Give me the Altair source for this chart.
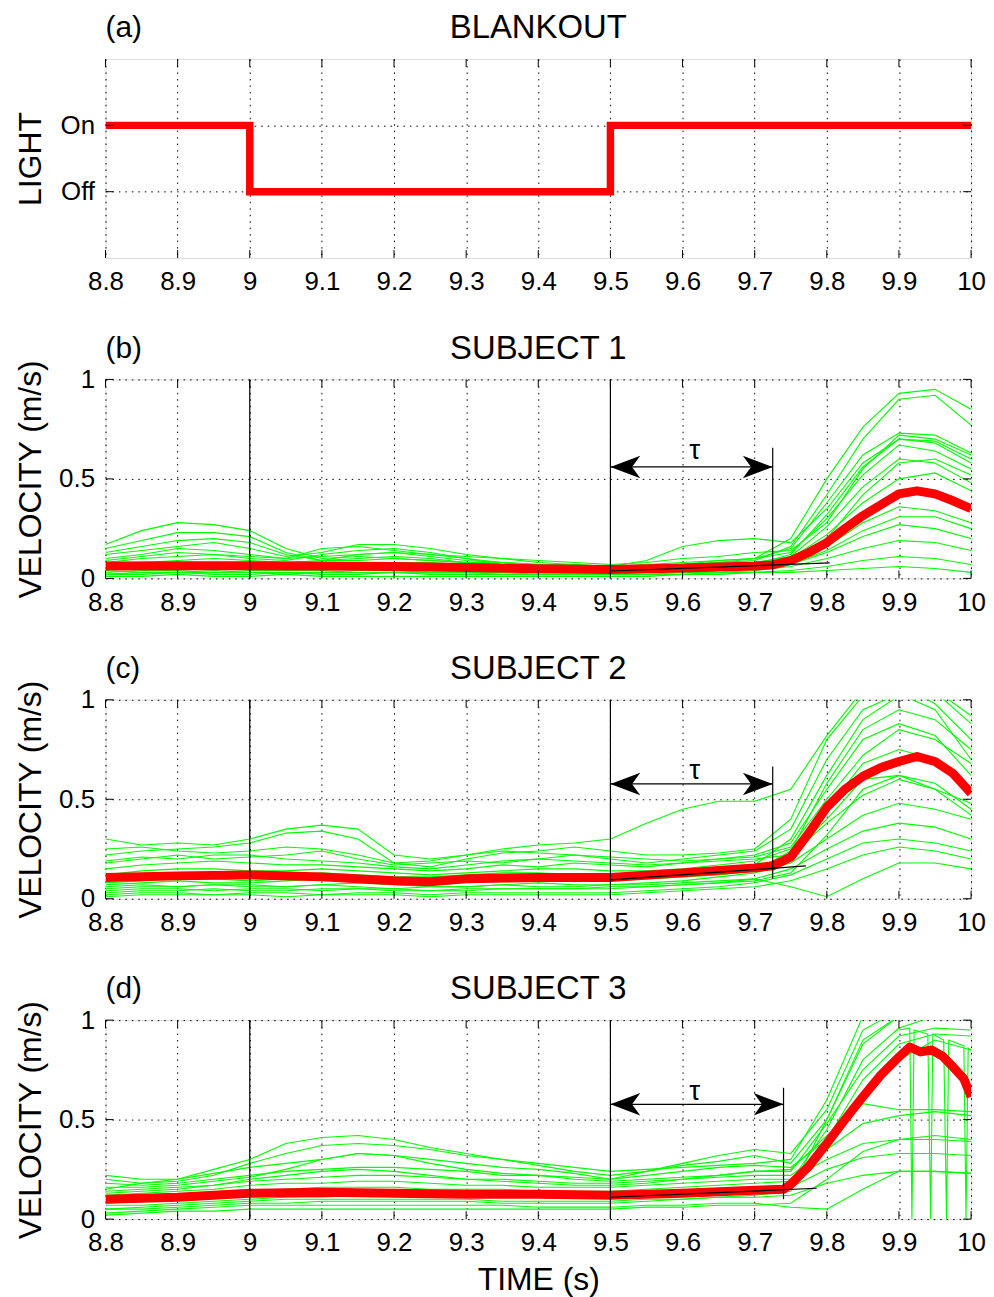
import altair as alt
import pandas as pd

FONT = "Liberation Sans"
W, H = 870, 200

# ---------------- axes ----------------
X_TICKS = [8.8, 8.9, 9.0, 9.1, 9.2, 9.3, 9.4, 9.5, 9.6, 9.7, 9.8, 9.9, 10.0]
V_TICKS = [0.0, 0.5, 1.0]
LIGHT_TICKS = [0, 1]
LIGHT_LABELS = ["Off", "On"]

# ---------------- panel (a): light ----------------
t_light = [8.8, 9.0, 9.0, 9.5, 9.5, 10.0]
light_state = [1, 1, 0, 0, 1, 1]

blank_lines = [9.0, 9.5]

# ---------------- time base of the individual trials ----------------
T = [8.8, 8.85, 8.9, 8.95, 9.0, 9.05, 9.1, 9.15, 9.2, 9.25, 9.3, 9.35, 9.4,
     9.45, 9.5, 9.55, 9.6, 9.65, 9.7, 9.75, 9.8, 9.85, 9.9, 9.95, 10.0]

# ---------------- subject 1 ----------------
s1_trials = [
    [0.17, 0.24, 0.28, 0.27, 0.24, 0.15, 0.10, 0.11, 0.10, 0.09, 0.08, 0.08, 0.07, 0.07, 0.06, 0.07, 0.08, 0.09, 0.10, 0.20, 0.50, 0.76, 0.93, 0.95, 0.85],
    [0.15, 0.19, 0.23, 0.23, 0.21, 0.13, 0.09, 0.12, 0.13, 0.11, 0.09, 0.08, 0.06, 0.05, 0.05, 0.06, 0.07, 0.08, 0.09, 0.16, 0.42, 0.70, 0.90, 0.92, 0.77],
    [0.12, 0.14, 0.16, 0.18, 0.15, 0.11, 0.13, 0.17, 0.17, 0.15, 0.12, 0.10, 0.08, 0.07, 0.06, 0.09, 0.16, 0.19, 0.20, 0.18, 0.35, 0.58, 0.70, 0.69, 0.60],
    [0.10, 0.12, 0.15, 0.14, 0.12, 0.10, 0.15, 0.16, 0.14, 0.12, 0.10, 0.08, 0.07, 0.05, 0.05, 0.06, 0.07, 0.09, 0.10, 0.13, 0.30, 0.52, 0.67, 0.64, 0.55],
    [0.08, 0.10, 0.11, 0.12, 0.10, 0.09, 0.12, 0.14, 0.15, 0.13, 0.10, 0.07, 0.06, 0.05, 0.04, 0.05, 0.06, 0.07, 0.08, 0.11, 0.26, 0.46, 0.60, 0.58, 0.48],
    [0.07, 0.08, 0.09, 0.10, 0.09, 0.08, 0.09, 0.10, 0.11, 0.10, 0.08, 0.07, 0.06, 0.05, 0.05, 0.05, 0.06, 0.06, 0.08, 0.10, 0.22, 0.38, 0.50, 0.53, 0.44],
    [0.05, 0.06, 0.07, 0.07, 0.06, 0.06, 0.07, 0.08, 0.08, 0.07, 0.06, 0.06, 0.05, 0.04, 0.04, 0.04, 0.05, 0.05, 0.06, 0.08, 0.16, 0.28, 0.36, 0.34, 0.28],
    [0.03, 0.04, 0.04, 0.05, 0.04, 0.04, 0.04, 0.05, 0.05, 0.04, 0.04, 0.04, 0.03, 0.03, 0.03, 0.03, 0.04, 0.04, 0.05, 0.07, 0.13, 0.21, 0.27, 0.25, 0.20],
    [0.02, 0.02, 0.03, 0.02, 0.02, 0.03, 0.02, 0.02, 0.03, 0.02, 0.02, 0.02, 0.02, 0.02, 0.02, 0.02, 0.03, 0.03, 0.04, 0.06, 0.10, 0.15, 0.19, 0.18, 0.14],
    [0.01, 0.01, 0.02, 0.01, 0.01, 0.02, 0.01, 0.01, 0.01, 0.01, 0.01, 0.01, 0.01, 0.01, 0.01, 0.01, 0.02, 0.02, 0.03, 0.04, 0.06, 0.09, 0.11, 0.10, 0.07],
    [0.04, 0.03, 0.03, 0.04, 0.03, 0.03, 0.03, 0.04, 0.04, 0.03, 0.03, 0.03, 0.02, 0.02, 0.02, 0.02, 0.02, 0.03, 0.03, 0.03, 0.04, 0.05, 0.06, 0.05, 0.03],
    [0.09, 0.11, 0.13, 0.12, 0.11, 0.10, 0.11, 0.12, 0.13, 0.12, 0.11, 0.10, 0.09, 0.08, 0.07, 0.08, 0.10, 0.11, 0.13, 0.14, 0.28, 0.55, 0.72, 0.70, 0.62],
    [0.05, 0.05, 0.06, 0.06, 0.05, 0.05, 0.06, 0.06, 0.07, 0.06, 0.05, 0.05, 0.04, 0.04, 0.03, 0.04, 0.04, 0.05, 0.06, 0.09, 0.20, 0.42, 0.58, 0.60, 0.52],
    [0.06, 0.07, 0.08, 0.08, 0.07, 0.06, 0.07, 0.08, 0.08, 0.08, 0.07, 0.06, 0.05, 0.05, 0.04, 0.05, 0.05, 0.06, 0.07, 0.12, 0.32, 0.56, 0.70, 0.68, 0.58],
    [0.02, 0.03, 0.03, 0.03, 0.03, 0.02, 0.03, 0.03, 0.03, 0.03, 0.03, 0.02, 0.02, 0.02, 0.02, 0.03, 0.03, 0.04, 0.05, 0.07, 0.14, 0.24, 0.31, 0.31, 0.25],
    [0.13, 0.16, 0.19, 0.20, 0.18, 0.12, 0.09, 0.09, 0.10, 0.09, 0.08, 0.07, 0.06, 0.06, 0.05, 0.06, 0.07, 0.08, 0.10, 0.15, 0.38, 0.62, 0.73, 0.72, 0.63],
]
s1_mean_t = [8.8, 8.9, 9.0, 9.1, 9.2, 9.3, 9.4, 9.5, 9.6, 9.7, 9.725, 9.75, 9.775, 9.8, 9.825, 9.85, 9.875, 9.9, 9.925, 9.95, 9.975, 10.0]
s1_mean_v = [0.062, 0.064, 0.064, 0.062, 0.060, 0.055, 0.048, 0.045, 0.052, 0.062, 0.068, 0.09, 0.13, 0.18, 0.25, 0.315, 0.37, 0.425, 0.44, 0.425, 0.39, 0.35]

# ---------------- subject 2 ----------------
s2_trials = [
    [0.30, 0.27, 0.28, 0.27, 0.30, 0.35, 0.37, 0.35, 0.22, 0.20, 0.22, 0.25, 0.27, 0.28, 0.30, 0.38, 0.45, 0.49, 0.49, 0.55, 0.82, 1.05, 1.10, 1.05, 0.92],
    [0.22, 0.24, 0.25, 0.26, 0.28, 0.33, 0.34, 0.30, 0.18, 0.16, 0.20, 0.23, 0.24, 0.26, 0.24, 0.22, 0.22, 0.23, 0.25, 0.40, 0.80, 1.02, 1.08, 0.98, 0.80],
    [0.18, 0.20, 0.22, 0.20, 0.21, 0.22, 0.24, 0.20, 0.17, 0.18, 0.19, 0.18, 0.20, 0.22, 0.20, 0.18, 0.20, 0.22, 0.24, 0.35, 0.70, 0.95, 1.03, 0.95, 0.70],
    [0.15, 0.17, 0.18, 0.19, 0.18, 0.17, 0.17, 0.16, 0.15, 0.14, 0.15, 0.17, 0.16, 0.18, 0.17, 0.16, 0.18, 0.20, 0.22, 0.28, 0.55, 0.80, 0.88, 0.82, 0.62],
    [0.12, 0.14, 0.15, 0.15, 0.14, 0.14, 0.15, 0.14, 0.13, 0.12, 0.13, 0.14, 0.15, 0.15, 0.14, 0.14, 0.15, 0.17, 0.19, 0.25, 0.45, 0.68, 0.75, 0.70, 0.55],
    [0.08, 0.09, 0.10, 0.10, 0.09, 0.10, 0.11, 0.10, 0.09, 0.09, 0.10, 0.10, 0.11, 0.10, 0.10, 0.11, 0.12, 0.14, 0.16, 0.22, 0.38, 0.52, 0.60, 0.55, 0.48],
    [0.06, 0.07, 0.06, 0.07, 0.07, 0.06, 0.07, 0.08, 0.07, 0.06, 0.06, 0.07, 0.08, 0.07, 0.07, 0.08, 0.09, 0.11, 0.13, 0.18, 0.30, 0.42, 0.48, 0.45, 0.40],
    [0.04, 0.05, 0.05, 0.04, 0.05, 0.05, 0.04, 0.05, 0.05, 0.04, 0.05, 0.05, 0.05, 0.05, 0.05, 0.06, 0.07, 0.08, 0.10, 0.15, 0.25, 0.34, 0.38, 0.36, 0.30],
    [0.02, 0.03, 0.03, 0.02, 0.03, 0.03, 0.02, 0.03, 0.03, 0.02, 0.03, 0.03, 0.03, 0.03, 0.03, 0.04, 0.05, 0.06, 0.08, 0.12, 0.20, 0.28, 0.30, 0.28, 0.24],
    [0.05, 0.06, 0.06, 0.07, 0.06, 0.06, 0.07, 0.06, 0.05, 0.06, 0.06, 0.07, 0.06, 0.06, 0.07, 0.07, 0.08, 0.09, 0.10, 0.06, 0.01, 0.10, 0.18, 0.18, 0.15],
    [0.10, 0.12, 0.12, 0.13, 0.12, 0.12, 0.13, 0.12, 0.11, 0.11, 0.12, 0.13, 0.13, 0.12, 0.12, 0.13, 0.14, 0.15, 0.17, 0.30, 0.62, 0.90, 1.02, 1.04, 0.88],
    [0.25, 0.26, 0.24, 0.23, 0.24, 0.26, 0.25, 0.22, 0.18, 0.19, 0.22, 0.24, 0.23, 0.22, 0.21, 0.20, 0.19, 0.20, 0.21, 0.26, 0.50, 0.72, 0.85, 0.80, 0.68],
    [0.03, 0.04, 0.04, 0.05, 0.04, 0.04, 0.05, 0.05, 0.04, 0.04, 0.04, 0.05, 0.05, 0.05, 0.06, 0.06, 0.07, 0.08, 0.09, 0.13, 0.32, 0.55, 0.62, 0.58, 0.45],
    [0.07, 0.08, 0.09, 0.08, 0.08, 0.09, 0.10, 0.09, 0.08, 0.08, 0.09, 0.09, 0.10, 0.09, 0.09, 0.10, 0.11, 0.12, 0.14, 0.24, 0.58, 0.85, 0.95, 0.90, 0.75],
    [0.19, 0.21, 0.20, 0.22, 0.22, 0.20, 0.19, 0.18, 0.16, 0.15, 0.17, 0.19, 0.20, 0.19, 0.18, 0.17, 0.18, 0.19, 0.20, 0.22, 0.40, 0.60, 0.62, 0.55, 0.42],
    [0.01, 0.02, 0.02, 0.02, 0.02, 0.01, 0.02, 0.02, 0.02, 0.01, 0.02, 0.02, 0.02, 0.02, 0.02, 0.03, 0.04, 0.05, 0.06, 0.09, 0.15, 0.22, 0.26, 0.24, 0.20],
]
s2_mean_t = [8.8, 8.9, 9.0, 9.1, 9.2, 9.25, 9.3, 9.4, 9.5, 9.6, 9.7, 9.725, 9.75, 9.775, 9.8, 9.825, 9.85, 9.875, 9.9, 9.925, 9.95, 9.975, 10.0]
s2_mean_v = [0.107, 0.115, 0.12, 0.11, 0.09, 0.085, 0.10, 0.107, 0.107, 0.13, 0.155, 0.165, 0.21, 0.33, 0.46, 0.55, 0.615, 0.66, 0.69, 0.715, 0.69, 0.63, 0.53]

# ---------------- subject 3 ----------------
s3_trials = [
    [0.15, 0.18, 0.20, 0.25, 0.30, 0.38, 0.41, 0.42, 0.40, 0.36, 0.33, 0.30, 0.28, 0.26, 0.24, 0.25, 0.26, 0.27, 0.28, 0.30, 0.60, 1.02, 1.08, 1.05, 1.02],
    [0.20, 0.18, 0.19, 0.22, 0.28, 0.33, 0.37, 0.38, 0.37, 0.35, 0.32, 0.30, 0.27, 0.24, 0.22, 0.24, 0.28, 0.32, 0.35, 0.33, 0.55, 0.95, 1.05, 1.06, 1.03],
    [0.22, 0.20, 0.20, 0.23, 0.26, 0.28, 0.30, 0.33, 0.32, 0.30, 0.28, 0.26, 0.25, 0.23, 0.20, 0.24, 0.27, 0.29, 0.32, 0.28, 0.50, 0.88, 1.02, 1.04, 1.00],
    [0.18, 0.17, 0.18, 0.20, 0.22, 0.24, 0.25, 0.26, 0.26, 0.25, 0.24, 0.22, 0.22, 0.21, 0.20, 0.22, 0.24, 0.26, 0.27, 0.26, 0.40, 0.62, 0.80, 0.90, 0.85],
    [0.14, 0.15, 0.16, 0.17, 0.19, 0.20, 0.21, 0.22, 0.22, 0.21, 0.20, 0.20, 0.19, 0.18, 0.18, 0.19, 0.20, 0.21, 0.22, 0.22, 0.35, 0.48, 0.52, 0.54, 0.52],
    [0.12, 0.13, 0.14, 0.15, 0.17, 0.18, 0.18, 0.19, 0.19, 0.18, 0.17, 0.17, 0.16, 0.16, 0.16, 0.17, 0.18, 0.19, 0.20, 0.20, 0.30, 0.38, 0.40, 0.40, 0.39],
    [0.08, 0.09, 0.10, 0.11, 0.12, 0.13, 0.14, 0.14, 0.14, 0.14, 0.13, 0.13, 0.13, 0.12, 0.12, 0.13, 0.14, 0.15, 0.15, 0.16, 0.25, 0.31, 0.33, 0.33, 0.32],
    [0.05, 0.06, 0.07, 0.08, 0.09, 0.10, 0.10, 0.10, 0.10, 0.10, 0.10, 0.09, 0.09, 0.09, 0.09, 0.10, 0.10, 0.11, 0.11, 0.12, 0.18, 0.22, 0.24, 0.24, 0.23],
    [0.03, 0.04, 0.05, 0.06, 0.07, 0.07, 0.07, 0.07, 0.07, 0.07, 0.07, 0.07, 0.06, 0.06, 0.06, 0.07, 0.07, 0.08, 0.08, 0.06, 0.05, 0.15, 0.24, 0.24, 0.23],
    [0.10, 0.11, 0.12, 0.13, 0.14, 0.15, 0.16, 0.16, 0.16, 0.15, 0.15, 0.15, 0.14, 0.14, 0.14, 0.15, 0.16, 0.17, 0.18, 0.19, 0.45, 0.80, 0.96, 1.02, 1.00],
    [0.07, 0.07, 0.08, 0.09, 0.10, 0.11, 0.11, 0.12, 0.12, 0.12, 0.11, 0.11, 0.11, 0.11, 0.11, 0.12, 0.13, 0.14, 0.15, 0.17, 0.40, 0.70, 0.88, 0.93, 0.92],
    [0.16, 0.16, 0.17, 0.19, 0.21, 0.25, 0.30, 0.33, 0.32, 0.28, 0.25, 0.23, 0.22, 0.20, 0.19, 0.20, 0.21, 0.22, 0.24, 0.25, 0.42, 0.58, 0.55, 0.55, 0.54],
    [0.05, 0.05, 0.06, 0.07, 0.08, 0.08, 0.09, 0.09, 0.09, 0.09, 0.09, 0.08, 0.08, 0.08, 0.08, 0.09, 0.10, 0.11, 0.12, 0.14, 0.50, 0.90, 1.02, 1.04, 1.02],
    [0.13, 0.14, 0.15, 0.17, 0.20, 0.22, 0.24, 0.25, 0.24, 0.22, 0.20, 0.19, 0.18, 0.17, 0.17, 0.18, 0.20, 0.22, 0.24, 0.24, 0.48, 0.75, 0.92, 0.96, 0.95],
    [0.02, 0.03, 0.04, 0.04, 0.05, 0.05, 0.05, 0.05, 0.05, 0.05, 0.05, 0.05, 0.05, 0.05, 0.05, 0.06, 0.06, 0.07, 0.07, 0.08, 0.20, 0.34, 0.40, 0.42, 0.40],
]
# a trial with dropouts near the end (vertical spikes)
s3_spike_t = [9.9, 9.915, 9.918, 9.921, 9.94, 9.944, 9.947, 9.962, 9.966, 9.969, 9.99, 9.993, 9.996, 10.0]
s3_spike_v = [0.95, 0.96, 0.0, 0.95, 0.93, 0.0, 0.93, 0.9, 0.0, 0.9, 0.87, 0.0, 0.86, 0.85]
s3_mean_t = [8.8, 8.9, 9.0, 9.1, 9.2, 9.3, 9.4, 9.5, 9.6, 9.7, 9.74, 9.75, 9.775, 9.8, 9.825, 9.85, 9.875, 9.9, 9.915, 9.93, 9.945, 9.96, 9.975, 9.99, 10.0]
s3_mean_v = [0.10, 0.11, 0.13, 0.135, 0.13, 0.125, 0.125, 0.12, 0.13, 0.145, 0.15, 0.175, 0.265, 0.38, 0.50, 0.615, 0.725, 0.815, 0.865, 0.84, 0.85, 0.82, 0.765, 0.705, 0.615]

# ---------------- annotations (per subject) ----------------
tau_end = [9.725, 9.725, 9.74]
arrow_y = [0.56, 0.577, 0.577]
tau_label_x = [9.617, 9.617, 9.617]
tau_label_y = [0.6, 0.6, 0.6]
tau_line_top = [0.657, 0.665, 0.66]
tau_line_bottom = [0.015, 0.10, 0.10]
fit_x0 = [9.5, 9.5, 9.5]
fit_y0 = [0.037, 0.095, 0.11]
fit_x1 = [9.804, 9.771, 9.786]
fit_y1 = [0.078, 0.165, 0.155]

# ---------------- helpers ----------------
xscale = alt.Scale(domain=[8.8, 10.0], nice=False, zero=False)
vscale = alt.Scale(domain=[0, 1], nice=False, zero=False)
lscale = alt.Scale(domain=[-1, 2], nice=False, zero=False)

GRID = dict(grid=True, gridColor="black", gridDash=[1.5, 5], gridWidth=1, gridOpacity=1,
            ticks=False, domain=False, labelFont=FONT, labelFontSize=26, labelColor="black",
            labelPadding=11, labelFlush=False, labelOverlap=False,
            titleFont=FONT, titleFontSize=32, titleFontWeight="normal", titleColor="black")


def x_axis(title=None):
    kw = dict(GRID)
    kw.update(values=X_TICKS, format="~g", labelBaseline="top", title=title)
    if title:
        kw.update(titleY=71, titleBaseline="alphabetic")
    return alt.Axis(**kw)


def y_axis(title, values, label_expr=None):
    kw = dict(GRID)
    kw.update(values=values, title=title, labelBaseline="middle",
              titleX=-75, titleY=H / 2, titleBaseline="middle", titleAlign="center", titleAngle=270)
    if label_expr:
        kw["labelExpr"] = label_expr
    else:
        kw["format"] = "~g"
    return alt.Axis(**kw)


LEFT_HEAD = "M -1 0 L 1 -0.75 L 0.45 0 L 1 0.75 Z"
RIGHT_HEAD = "M 1 0 L -1 -0.75 L -0.45 0 L -1 0.75 Z"


def tick_layers(xax, yax, yscale, yticks):
    xt = alt.Chart(pd.DataFrame({"tick": X_TICKS}))
    yt = alt.Chart(pd.DataFrame({"tick": yticks}))
    X = alt.X("tick:Q", scale=xscale, axis=xax)
    Y = alt.Y("tick:Q", scale=yscale, axis=yax)
    rs = dict(color="black", strokeWidth=1)
    return [
        xt.mark_rule(**rs).encode(x=X, y=alt.value(0), y2=alt.value(8)),
        xt.mark_rule(**rs).encode(x=X, y=alt.value(H), y2=alt.value(H - 8)),
        yt.mark_rule(**rs).encode(y=Y, x=alt.value(0), x2=alt.value(8)),
        yt.mark_rule(**rs).encode(y=Y, x=alt.value(W), x2=alt.value(W - 8)),
    ]


def heading_layers(letter, title):
    lab = alt.Chart(pd.DataFrame({"lab": [letter]})).mark_text(
        align="left", baseline="alphabetic", font=FONT, fontSize=30, color="black"
    ).encode(text="lab:N", x=alt.value(0), y=alt.value(-22))
    ttl = alt.Chart(pd.DataFrame({"lab": [title]})).mark_text(
        align="center", baseline="alphabetic", font=FONT, fontSize=33, color="black"
    ).encode(text="lab:N", x=alt.value(W / 2), y=alt.value(-21))
    return [lab, ttl]


# ---------------- panel (a) ----------------
xa = x_axis()
ya = y_axis("LIGHT", LIGHT_TICKS, f"{LIGHT_LABELS}[datum.value]")
light_df = pd.DataFrame({"t": t_light, "s": light_state, "i": list(range(len(t_light)))})
red_step = alt.Chart(light_df).mark_line(
    color="#ff0000", strokeWidth=7.5, strokeJoin="miter", strokeCap="butt", clip=True
).encode(
    x=alt.X("t:Q", scale=xscale, axis=xa),
    y=alt.Y("s:Q", scale=lscale, axis=ya),
    order="i:Q",
)
panel_a = alt.layer(red_step, *tick_layers(xa, ya, lscale, LIGHT_TICKS),
                    *heading_layers("(a)", "BLANKOUT")).properties(width=W, height=H)


def velocity_panel(k, letter, title, trials, mean_t, mean_v, extra=None, xtitle=None):
    xax = x_axis(xtitle)
    yax = y_axis("VELOCITY (m/s)", V_TICKS)
    X = lambda f: alt.X(f, scale=xscale, axis=xax)
    Y = lambda f: alt.Y(f, scale=vscale, axis=yax)

    rows = []
    for j, tr in enumerate(trials):
        for t, v in zip(T, tr):
            rows.append({"t": t, "v": v, "trial": j})
    if extra is not None:
        for t, v in zip(*extra):
            rows.append({"t": t, "v": v, "trial": len(trials)})
    green = alt.Chart(pd.DataFrame(rows)).mark_line(
        color="#00ff00", strokeWidth=1.1, clip=True
    ).encode(x=X("t:Q"), y=Y("v:Q"), detail="trial:N", order="t:Q")

    red = alt.Chart(pd.DataFrame({"t": mean_t, "v": mean_v})).mark_line(
        color="#ff0000", strokeWidth=9, strokeJoin="round", clip=True
    ).encode(x=X("t:Q"), y=Y("v:Q"))

    fit = alt.Chart(pd.DataFrame({"t": [fit_x0[k], fit_x1[k]], "v": [fit_y0[k], fit_y1[k]]})).mark_line(
        color="black", strokeWidth=1.2
    ).encode(x=X("t:Q"), y=Y("v:Q"))

    blank = alt.Chart(pd.DataFrame({"t": blank_lines})).mark_rule(
        color="black", strokeWidth=1.2
    ).encode(x=X("t:Q"))

    tau_v = alt.Chart(pd.DataFrame({"t": [tau_end[k]], "a": [tau_line_bottom[k]], "b": [tau_line_top[k]]})).mark_rule(
        color="black", strokeWidth=1.2
    ).encode(x=X("t:Q"), y=Y("a:Q"), y2="b:Q")

    shaft = alt.Chart(pd.DataFrame({"a": [blank_lines[1]], "b": [tau_end[k]], "y": [arrow_y[k]]})).mark_rule(
        color="black", strokeWidth=1.2
    ).encode(x=X("a:Q"), x2="b:Q", y=Y("y:Q"))

    head_l = alt.Chart(pd.DataFrame({"t": [blank_lines[1]], "y": [arrow_y[k]]})).mark_point(
        shape=LEFT_HEAD, size=900, filled=True, color="black", opacity=1, xOffset=15
    ).encode(x=X("t:Q"), y=Y("y:Q"))
    head_r = alt.Chart(pd.DataFrame({"t": [tau_end[k]], "y": [arrow_y[k]]})).mark_point(
        shape=RIGHT_HEAD, size=900, filled=True, color="black", opacity=1, xOffset=-15
    ).encode(x=X("t:Q"), y=Y("y:Q"))

    tau_txt = alt.Chart(pd.DataFrame({"t": [tau_label_x[k]], "y": [tau_label_y[k]], "s": ["τ"]})).mark_text(
        font=FONT, fontSize=28, color="black", align="center", baseline="alphabetic"
    ).encode(x=X("t:Q"), y=Y("y:Q"), text="s:N")

    return alt.layer(
        green, red, fit, blank, tau_v, shaft, head_l, head_r, tau_txt,
        *tick_layers(xax, yax, vscale, V_TICKS), *heading_layers(letter, title)
    ).properties(width=W, height=H)


panel_b = velocity_panel(0, "(b)", "SUBJECT 1", s1_trials, s1_mean_t, s1_mean_v)
panel_c = velocity_panel(1, "(c)", "SUBJECT 2", s2_trials, s2_mean_t, s2_mean_v)
panel_d = velocity_panel(2, "(d)", "SUBJECT 3", s3_trials, s3_mean_t, s3_mean_v,
                         extra=(s3_spike_t, s3_spike_v), xtitle="TIME (s)")

chart = alt.vconcat(panel_a, panel_b, panel_c, panel_d, spacing=36).properties(
    padding={"left": 6, "top": 0, "right": 0, "bottom": 0}
).configure_view(stroke="black", strokeWidth=1.2).configure(font=FONT, background="white")

chart.save("out.html", embed_options={"renderer": "svg", "actions": False})
